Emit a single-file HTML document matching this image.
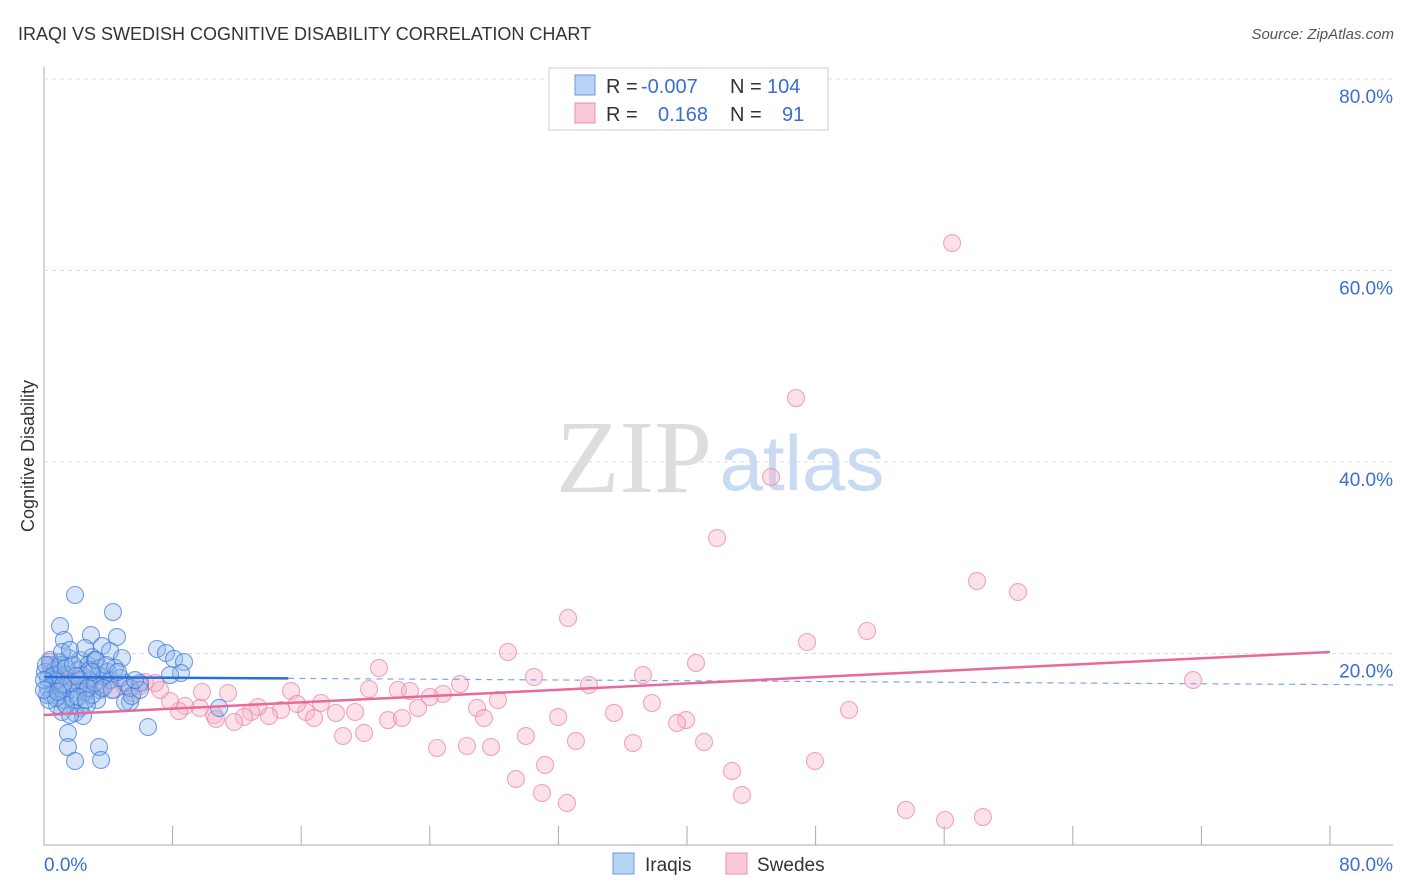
<!DOCTYPE html>
<html><head><meta charset="utf-8"><style>
body{margin:0;background:#fff;font-family:"Liberation Sans",sans-serif}
svg{display:block}
</style></head><body>
<svg id="c" width="1406" height="892">
<text x="18" y="40" font-size="18" fill="#333">IRAQI VS SWEDISH COGNITIVE DISABILITY CORRELATION CHART</text>
<text x="1394" y="39" font-size="15" fill="#555" font-style="italic" text-anchor="end">Source: ZipAtlas.com</text>
<text x="634" y="492" font-size="104" fill="#ddd" font-family="Liberation Serif,serif" text-anchor="middle">ZIP</text>
<text x="802" y="490" font-size="78" fill="#c9daf3" text-anchor="middle">atlas</text>
<text transform="translate(34,456) rotate(-90)" font-size="18" fill="#333" text-anchor="middle">Cognitive Disability</text>
<g id="grid"></g><g id="pts"></g><g id="lines"></g>
<g>
<rect x="549" y="68" width="279" height="62" fill="#fff" stroke="#ccc"/>
<rect x="575" y="75" width="20" height="20" fill="#b9d3f5" stroke="#6a9ae0"/>
<rect x="575" y="103" width="20" height="20" fill="#fcc9d8" stroke="#eb8fad"/>
<text x="606" y="93" font-size="20" fill="#333">R = <tspan x="641" fill="#3a6fd0">-0.007</tspan><tspan x="730">N = </tspan><tspan x="767" fill="#3a6fd0">104</tspan></text>
<text x="606" y="121" font-size="20" fill="#333">R = <tspan x="658" fill="#3a6fd0">0.168</tspan><tspan x="730">N = </tspan><tspan x="782" fill="#3a6fd0">91</tspan></text>
</g>
<g>
<rect x="613" y="853" width="21" height="21" fill="#b9d3f5" stroke="#6a9ae0"/>
<text x="645" y="871" font-size="19" fill="#333">Iraqis</text>
<rect x="726" y="853" width="21" height="21" fill="#fcc9d8" stroke="#eb8fad"/>
<text x="757" y="871" font-size="19" fill="#333">Swedes</text>
</g>
</svg>
<script>
const yTicks=[20,40,60,80];
const yTickLabels=["20.0%","40.0%","60.0%","80.0%"];
const blueTrend=[17.55,16.76];
const pinkTrend=[13.58,20.16];
const bluePx=[[75,595],[113,612],[60,626],[117,637],[91,635],[64,640],[102,646],[157,649],[110,651],[166,653],[174,659],[184,662],[122,658],[92,657],[80,660],[69,658],[60,662],[50,665],[55,670],[45,672],[48,678],[53,683],[60,688],[66,693],[72,697],[78,690],[85,685],[90,680],[98,675],[104,677],[110,680],[125,683],[140,683],[181,673],[170,675],[100,690],[130,702],[125,702],[97,700],[87,705],[80,708],[75,713],[83,716],[62,712],[70,715],[148,727],[219,708],[68,733],[68,747],[99,747],[75,761],[101,760],[88,665],[95,660],[78,670],[65,675],[58,680],[48,688],[52,695],[62,700],[72,683],[82,675],[90,670],[100,668],[108,672],[115,668],[85,692],[92,695],[57,705],[50,660],[46,665],[47,695],[54,675],[60,665],[66,668],[73,665],[80,680],[88,688],[95,683],[103,688],[112,690],[120,678],[62,652],[70,650],[85,648],[96,660],[130,688],[132,696],[74,700],[66,705],[56,698],[49,700],[44,680],[44,690],[78,697],[92,672],[86,700],[106,665],[118,672],[140,690],[135,680],[63,685],[76,676],[58,692]];
const pinkPx=[[952,243],[796,398],[771,477],[717,538],[977,581],[1018,592],[568,618],[867,631],[807,642],[508,652],[696,663],[379,668],[643,675],[534,677],[589,685],[1193,680],[460,684],[291,691],[369,689],[398,690],[410,691],[443,694],[430,697],[498,700],[652,703],[477,708],[614,713],[558,717],[484,718],[686,720],[677,723],[849,710],[526,736],[576,741],[633,743],[704,742],[437,748],[467,746],[491,747],[516,779],[545,765],[542,793],[567,803],[732,771],[742,795],[815,761],[906,810],[945,820],[983,817],[355,712],[336,713],[321,703],[306,712],[297,704],[281,710],[269,716],[258,707],[251,712],[244,717],[234,722],[228,693],[214,715],[216,719],[200,708],[202,692],[185,706],[179,711],[170,701],[160,690],[155,683],[145,682],[140,686],[133,693],[124,686],[114,690],[106,684],[98,686],[90,688],[82,680],[72,676],[65,682],[58,674],[52,668],[50,662],[55,690],[343,736],[364,733],[388,720],[402,718],[418,708],[314,718]];
const blueX=bluePx.map(p=>+((p[0]-44)/1286*80).toFixed(2));
const blueY=bluePx.map(p=>+((845-p[1])/191.5*20).toFixed(2));
const pinkX=pinkPx.map(p=>+((p[0]-44)/1286*80).toFixed(2));
const pinkY=pinkPx.map(p=>+((845-p[1])/191.5*20).toFixed(2));
const NS="http://www.w3.org/2000/svg";
const X=v=>44+v/80*1286, Y=v=>845-v/20*191.5;
function mk(t,a,p){const e=document.createElementNS(NS,t);for(const k in a)e.setAttribute(k,a[k]);p.appendChild(e);return e;}
const g=document.getElementById('grid');
let ax=mk('line',{x1:44,y1:67,x2:44,y2:845,stroke:'#aaa'},g);


let bx=mk('line',{x1:44,y1:845,x2:1393,y2:845,stroke:'#aaa'},g);


for(let i=1;i<=10;i++){const t=mk('line',{x1:X(i*8),x2:X(i*8),y1:826,y2:845,stroke:'#aaa'},g);

}
yTicks.forEach((v,i)=>{const l=mk('line',{x1:44,x2:1393,y1:Y(v),y2:Y(v),stroke:'#ddd','stroke-dasharray':'4,4'},g);


const t=mk('text',{x:1393,y:Y(v)+24,'font-size':19,fill:'#3a6fd0','text-anchor':'end'},g);t.textContent=yTickLabels[i];

});
const x0=mk('text',{x:44,y:871,'font-size':19,fill:'#3a6fd0'},g);x0.textContent='0.0%';


const x1=mk('text',{x:1393,y:871,'font-size':19,fill:'#3a6fd0','text-anchor':'end'},g);x1.textContent='80.0%';


const P=document.getElementById('pts');
pinkX.forEach((x,i)=>{const c=mk('circle',{cx:X(x),cy:Y(pinkY[i]),r:8.5,fill:'rgba(248,180,200,0.4)',stroke:'rgba(235,130,165,0.7)','stroke-width':1.1},P);

});
blueX.forEach((x,i)=>{const c=mk('circle',{cx:X(x),cy:Y(blueY[i]),r:8.5,fill:'rgba(140,180,235,0.35)',stroke:'rgba(60,120,215,0.7)','stroke-width':1.1},P);

});
const L=document.getElementById('lines');
const by=x=>blueTrend[0]+(blueTrend[1]-blueTrend[0])*x/80;
let l1=mk('line',{x1:X(0),y1:Y(by(0)),x2:X(15.2),y2:Y(by(15.2)),stroke:'#2a6fd6','stroke-width':2.5},L);


let l2=mk('line',{x1:X(15.2),y1:Y(by(15.2)),x2:1393,y2:Y(by(84)),stroke:'#7fa6e6','stroke-width':1.2,'stroke-dasharray':'6,5'},L);


let l3=mk('line',{x1:X(0),y1:Y(pinkTrend[0]),x2:X(80),y2:Y(pinkTrend[1]),stroke:'#e8699a','stroke-width':2.5},L);


</script>
</body></html>
